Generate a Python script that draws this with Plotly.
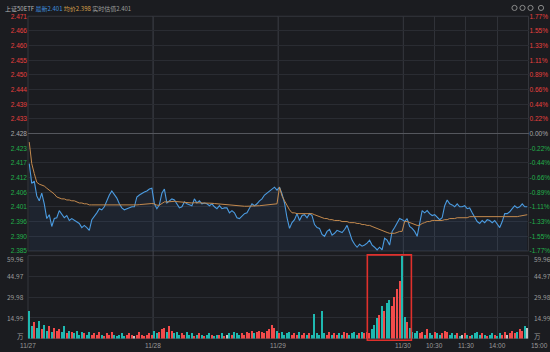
import plotly.graph_objects as go

# ---------------- data ----------------
name = "上证50ETF"
pre_close = 2.428
max_pct = 1.77
day_labels = ["11/27", "11/28", "11/29", "11/30"]
points_per_day = 50
time_labels = ["10:30", "11:30", "14:00", "15:00"]
time_minutes = [60, 120, 180, 240]   # trading minutes after 9:30 on last day
minutes_per_day = 240

price_d1 = [2.4170, 2.4098, 2.4106, 2.4052, 2.4034, 2.4062, 2.4023, 2.3969, 2.3983, 2.3940,
            2.3969, 2.3972, 2.3998, 2.3987, 2.3972, 2.3980, 2.3962, 2.3969, 2.3962, 2.3958,
            2.3951, 2.3936, 2.3944, 2.3936, 2.3926, 2.3965, 2.3976, 2.3990, 2.4005, 2.4001,
            2.4012, 2.4034, 2.4055, 2.4070, 2.4059, 2.4044, 2.4023, 2.4008, 2.4001, 2.4005,
            2.4008, 2.4012, 2.4012, 2.4048, 2.4055, 2.4062, 2.4066, 2.4070, 2.4077, 2.4080]
price_d2 = [2.4023, 2.4005, 2.4019, 2.4062, 2.4077, 2.4026, 2.4034, 2.4041, 2.4037, 2.4023,
            2.4008, 2.4012, 2.4030, 2.4023, 2.4019, 2.4016, 2.4041, 2.4026, 2.4034, 2.4023,
            2.4026, 2.4023, 2.4016, 2.4023, 2.4012, 2.4005, 2.4016, 2.4005, 2.4008, 2.4008,
            2.3990, 2.3998, 2.3990, 2.3972, 2.3969, 2.3980, 2.3987, 2.3990, 2.4005, 2.4023,
            2.4016, 2.4023, 2.4034, 2.4041, 2.4055, 2.4062, 2.4070, 2.4077, 2.4084, 2.4073]
price_d3 = [2.4084, 2.4059, 2.4026, 2.3972, 2.3933, 2.3954, 2.3965, 2.3987, 2.3962, 2.3980,
            2.3983, 2.3972, 2.3987, 2.3980, 2.3947, 2.3936, 2.3933, 2.3911, 2.3904, 2.3922,
            2.3929, 2.3908, 2.3915, 2.3926, 2.3922, 2.3918, 2.3929, 2.3944, 2.3918, 2.3890,
            2.3875, 2.3864, 2.3875, 2.3868, 2.3872, 2.3879, 2.3890, 2.3872, 2.3864, 2.3854,
            2.3864, 2.3854, 2.3897, 2.3890, 2.3872, 2.3922, 2.3936, 2.3954, 2.3969, 2.3965]
price_d4 = [2.3958, 2.3969, 2.3940, 2.3933, 2.3922, 2.3904, 2.3954, 2.3998, 2.3990, 2.3998,
            2.3987, 2.3980, 2.3983, 2.3972, 2.3965, 2.3972, 2.4016, 2.4037, 2.4023, 2.4019,
            2.4012, 2.4023, 2.4012, 2.4012, 2.4016, 2.4005, 2.4008, 2.3990, 2.3976, 2.3958,
            2.3951, 2.3962, 2.3954, 2.3965, 2.3962, 2.3954, 2.3962, 2.3947, 2.3936, 2.3958,
            2.3987, 2.3987, 2.3994, 2.4005, 2.4016, 2.4008, 2.4012, 2.4023, 2.4012, 2.4012]

avg_d1 = [2.4249, 2.4170, 2.4134, 2.4102, 2.4095, 2.4091, 2.4088, 2.4080, 2.4073, 2.4066,
          2.4059, 2.4048, 2.4044, 2.4041, 2.4041, 2.4037, 2.4037, 2.4034, 2.4034, 2.4030,
          2.4026, 2.4026, 2.4023, 2.4023, 2.4019, 2.4019, 2.4019, 2.4018, 2.4018, 2.4018,
          2.4017, 2.4017, 2.4017, 2.4017, 2.4018, 2.4018, 2.4018, 2.4018, 2.4018, 2.4018,
          2.4019, 2.4019, 2.4019, 2.4019, 2.4020, 2.4021, 2.4021, 2.4022, 2.4023, 2.4024]
avg_d2 = [2.4023, 2.4018, 2.4018, 2.4024, 2.4030, 2.4030, 2.4031, 2.4032, 2.4032, 2.4031,
          2.4030, 2.4028, 2.4028, 2.4028, 2.4027, 2.4026, 2.4027, 2.4027, 2.4027, 2.4026,
          2.4026, 2.4026, 2.4025, 2.4025, 2.4024, 2.4023, 2.4023, 2.4022, 2.4021, 2.4020,
          2.4019, 2.4018, 2.4017, 2.4016, 2.4015, 2.4014, 2.4014, 2.4014, 2.4014, 2.4014,
          2.4015, 2.4015, 2.4016, 2.4017, 2.4018, 2.4019, 2.4020, 2.4021, 2.4022, 2.4023]
avg_d3 = [2.4084, 2.4052, 2.4034, 2.4016, 2.4001, 2.3990, 2.3990, 2.3987, 2.3987, 2.3987,
          2.3987, 2.3987, 2.3987, 2.3987, 2.3983, 2.3980, 2.3976, 2.3972, 2.3969, 2.3969,
          2.3965, 2.3965, 2.3962, 2.3962, 2.3962, 2.3958, 2.3958, 2.3958, 2.3954, 2.3954,
          2.3954, 2.3951, 2.3951, 2.3947, 2.3947, 2.3944, 2.3944, 2.3940, 2.3936, 2.3933,
          2.3929, 2.3926, 2.3922, 2.3918, 2.3915, 2.3915, 2.3915, 2.3918, 2.3922, 2.3922]
avg_d4 = [2.3958, 2.3958, 2.3954, 2.3951, 2.3947, 2.3944, 2.3944, 2.3951, 2.3954, 2.3958,
          2.3958, 2.3962, 2.3962, 2.3962, 2.3962, 2.3962, 2.3965, 2.3965, 2.3969, 2.3969,
          2.3969, 2.3972, 2.3972, 2.3972, 2.3972, 2.3972, 2.3976, 2.3976, 2.3976, 2.3976,
          2.3976, 2.3974, 2.3974, 2.3974, 2.3974, 2.3974, 2.3974, 2.3974, 2.3974, 2.3974,
          2.3974, 2.3975, 2.3975, 2.3975, 2.3975, 2.3976, 2.3978, 2.3980, 2.3981, 2.3983]

vol_d1 = [20, 9, 12, 8, 13, 7, 10, 6, 9, 5, 8, 6, 7, 5, 9, 4, 6, 5, 4, 6,
          3, 5, 4, 3, 5, 3, 4, 3, 5, 3, 2, 4, 3, 5, 3, 2, 3, 4, 2, 3,
          4, 3, 2, 3, 5, 3, 2, 3, 4, 3]
vol_d2 = [6, 4, 5, 7, 8, 5, 9, 6, 4, 5, 3, 4, 3, 5, 3, 4, 2, 3, 4, 3,
          2, 3, 4, 3, 2, 3, 3, 4, 2, 3, 4, 3, 5, 4, 3, 4, 3, 5, 4, 6,
          4, 5, 6, 5, 4, 6, 7, 10, 8, 6]
vol_d3 = [4, 5, 3, 4, 5, 3, 4, 3, 5, 3, 4, 3, 4, 3, 18, 4, 3, 20, 4, 3,
          5, 3, 4, 3, 4, 3, 5, 4, 3, 4, 5, 3, 4, 5, 4, 5, 4, 7, 10, 15,
          17, 24, 20, 26, 28, 24, 30, 36, 42, 59.96]
vol_d4 = [16, 12, 8, 5, 4, 6, 4, 5, 3, 7, 4, 3, 5, 4, 3, 4, 6, 5, 3, 4,
          3, 4, 2, 3, 4, 3, 2, 3, 4, 5, 3, 4, 3, 2, 3, 4, 3, 2, 4, 3,
          5, 3, 4, 6, 4, 5, 7, 6, 9, 8]

price_labels = ["2.471", "2.466", "2.460", "2.455", "2.450", "2.444", "2.439", "2.433", "2.428",
                "2.423", "2.417", "2.412", "2.406", "2.401", "2.396", "2.390", "2.385"]
pct_labels = ["1.77%", "1.55%", "1.33%", "1.11%", "0.89%", "0.66%", "0.44%", "0.22%", "0.00%",
              "-0.22%", "-0.44%", "-0.66%", "-0.89%", "-1.11%", "-1.33%", "-1.55%", "-1.77%"]
vol_unit = "万"
highlight = (135.6, 153.2)   # index range of the boxed volume burst

# ---------------- derived ----------------
price = price_d1 + price_d2 + price_d3 + price_d4
avg = avg_d1 + avg_d2 + avg_d3 + avg_d4
volume = vol_d1 + vol_d2 + vol_d3 + vol_d4
n = len(price)
x = [i + 0.5 for i in range(n)]
pct = [(p / pre_close - 1) * 100 for p in price]
vol_max = max(volume)

RED, GREEN, GRAY = "#e8403f", "#22b04b", "#a8a8a8"
BAR_UP, BAR_DN, BAR_FLAT = "#f24b4b", "#1fb8b0", "#c4c4c4"
bar_colors = []
prev = pre_close
for p in price:
    if p > prev + 1e-9:
        bar_colors.append(BAR_UP)
    elif p < prev - 1e-9:
        bar_colors.append(BAR_DN)
    else:
        bar_colors.append(BAR_FLAT)
    prev = p

steps = list(range(8, -9, -1))
price_ticks = [pre_close * (1 + k * max_pct / 8 / 100) for k in steps]
pct_ticks = [k * max_pct / 8 for k in steps]

def col(k):
    return RED if k > 0 else (GREEN if k < 0 else GRAY)

price_text = [f'<span style="color:{col(k)}">{t}</span>' for k, t in zip(steps, price_labels)]
pct_text = [f'<span style="color:{col(k)}">{t}</span>' for k, t in zip(steps, pct_labels)]

vol_ticks = [vol_max * k / 4 for k in range(5)]
vol_text = [vol_unit] + [f"{v:.2f}" for v in vol_ticks[1:]]

ndays = len(day_labels)
x_ticks = [d * points_per_day for d in range(ndays)] + \
          [(ndays - 1) * points_per_day + m / minutes_per_day * points_per_day for m in time_minutes]
x_text = day_labels + time_labels
x_range = [0, ndays * points_per_day]

# ---------------- figure ----------------
W, H = 550, 352
BG = "#1b1c20"
GRID = "#2a2c32"
VGRID = "#303238"
FONT = "Liberation Sans, Noto Sans CJK SC, sans-serif"
LBL = "#9a9a9a"
xdom = [28 / W, 528.5 / W]
pdom = [1 - 252 / H, 1 - 12.5 / H]
vdom = [1 - 341.3 / H, 1 - 256.7 / H]

fig = go.Figure()
fig.add_trace(go.Scatter(x=x, y=price, mode="lines", line=dict(color="#4b9be0", width=1.1),
                         fill="tozeroy", fillcolor="rgba(74,144,226,0.08)",
                         xaxis="x", yaxis="y", hoverinfo="skip", showlegend=False))
fig.add_trace(go.Scatter(x=x, y=avg, mode="lines", line=dict(color="#c48a4e", width=1),
                         xaxis="x", yaxis="y", hoverinfo="skip", showlegend=False))
fig.add_trace(go.Scatter(x=x, y=pct, mode="lines", line=dict(width=0), opacity=0,
                         xaxis="x", yaxis="y3", hoverinfo="skip", showlegend=False))
fig.add_trace(go.Bar(x=x, y=volume, marker=dict(color=bar_colors, line=dict(width=0)),
                     width=0.5, xaxis="x2", yaxis="y2", hoverinfo="skip", showlegend=False))

tickfont = dict(family=FONT, size=6.5, color=LBL)
axis_common = dict(showline=False, zeroline=False, ticks="", fixedrange=True)

fig.update_layout(
    width=W, height=H, margin=dict(l=0, r=0, t=0, b=0),
    paper_bgcolor=BG, plot_bgcolor=BG, bargap=0,
    font=dict(family=FONT, size=6.5, color=LBL),
    xaxis=dict(domain=xdom, range=x_range, anchor="y", tickvals=x_ticks, showticklabels=False,
               showgrid=True, gridcolor=VGRID, gridwidth=1, **axis_common),
    yaxis=dict(domain=pdom, range=[price_ticks[-1], price_ticks[0]], anchor="x",
               tickvals=price_ticks, ticktext=price_text, tickfont=tickfont,
               showgrid=True, gridcolor=GRID, gridwidth=1, **axis_common),
    yaxis3=dict(overlaying="y", side="right", anchor="x", range=[-max_pct, max_pct],
                tickvals=pct_ticks, ticktext=pct_text, tickfont=tickfont, showgrid=False,
                showline=False, zeroline=True, zerolinecolor="#55575d", zerolinewidth=1,
                ticks="", fixedrange=True),
    xaxis2=dict(domain=xdom, range=x_range, anchor="y2", tickvals=x_ticks, showticklabels=False,
                showgrid=True, gridcolor=VGRID, gridwidth=1, **axis_common),
    yaxis2=dict(domain=vdom, range=[0, vol_max], anchor="x2", tickvals=vol_ticks,
                showticklabels=False, showgrid=True, gridcolor=GRID, gridwidth=1, **axis_common),
)

# borders and day separators
shapes = []
for dom in (pdom, vdom):
    shapes.append(dict(type="rect", xref="paper", yref="paper", x0=xdom[0], x1=xdom[1],
                       y0=dom[0], y1=dom[1], line=dict(color="#34363c", width=1), layer="below"))
for d in range(1, ndays):
    shapes.append(dict(type="line", xref="x", yref="paper", x0=d * points_per_day, x1=d * points_per_day,
                       y0=vdom[0], y1=pdom[1], line=dict(color="#45474e", width=1), layer="below"))
# highlight box around the volume burst (slightly outside the volume pane vertically)
shapes.append(dict(type="rect", xref="x2", yref="paper", x0=highlight[0], x1=highlight[1],
                   y0=vdom[0] - 1.8 / H, y1=vdom[1] + 0.7 / H,
                   line=dict(color="#e0302c", width=1.6)))
# header icons
for cx in (514.5, 522.5, 530.5, 541):
    shapes.append(dict(type="circle", xref="paper", yref="paper",
                       x0=(cx - 2.6) / W, x1=(cx + 2.6) / W, y0=1 - 6.6 / H, y1=1 - 1.4 / H,
                       line=dict(color="#8a8a8a", width=1), fillcolor="rgba(0,0,0,0)"))
fig.update_layout(shapes=shapes)

annotations = []
# header text (one line, coloured parts)
header = (f'<span style="color:#b4b4b4">{name}</span> '
          f'<span style="color:#3f8fdf">最新{price[-1]:.3f}</span> '
          f'<span style="color:#d9a24c">均价{avg[-1]:.3f}</span> '
          f'<span style="color:#9c9c9c">实时估值{price[-1]:.3f}</span>')
annotations.append(dict(x=3 / W, y=1 - 4.8 / H, xref="paper", yref="paper", text=header,
                        showarrow=False, xanchor="left", yanchor="middle",
                        font=dict(family="Noto Sans CJK SC, " + FONT, size=6)))
# volume labels on both sides (top label below its line, unit label above the base)
for v, t in zip(vol_ticks, vol_text):
    shift = -3.5 if v == vol_max else (3 if v == 0 else 0)
    for xp, anchor, xs in ((xdom[0], "right", -2), (xdom[1], "left", 3)):
        annotations.append(dict(x=xp, y=v, xref="paper", yref="y2", text=t, showarrow=False,
                                xanchor=anchor, yanchor="middle", xshift=xs, yshift=shift,
                                font=dict(family="Noto Sans CJK SC, " + FONT, size=6.5, color=LBL)))
# time axis labels
for i, (tv, tt) in enumerate(zip(x_ticks, x_text)):
    last = i == len(x_ticks) - 1
    annotations.append(dict(x=tv, y=vdom[0], xref="x2", yref="paper", text=tt, showarrow=False,
                            xanchor="left" if last else "center", yanchor="top", yshift=-1,
                            font=dict(family=FONT, size=6.5, color=LBL)))
fig.update_layout(annotations=annotations)

fig.write_html("out.html")
